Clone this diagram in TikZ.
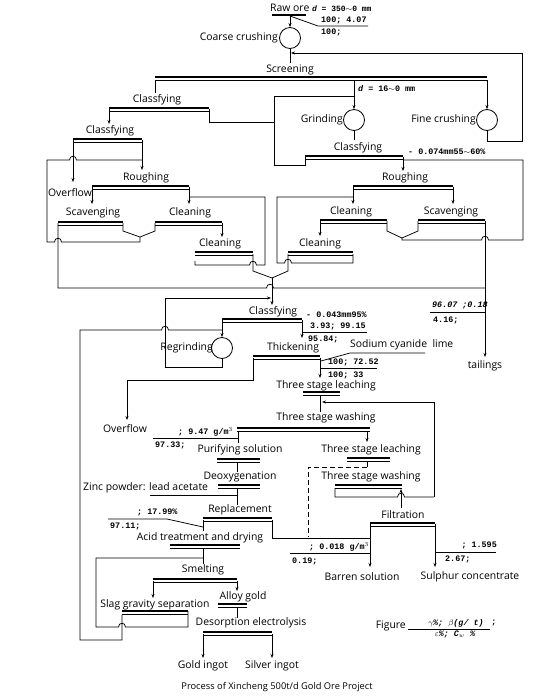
\documentclass[tikz,border=0pt]{standalone}
\usepackage{fontspec}
\setmainfont{Open Sans}
\newfontfamily\numf{Liberation Mono}
\usetikzlibrary{arrows.meta}
\newcommand\flbar[3]{\draw[thk] (#1,#3) -- (#2,#3); \draw[thn] (#1,#3+3.2) -- (#2,#3+3.2);}
\begin{document}
\begin{tikzpicture}[x=1pt,y=-1pt,
  ln/.style={line width=0.75pt},
  arr/.style={line width=0.75pt,-{Stealth[length=4pt,width=3pt]}},
  lab/.style={font=\fontsize{10.4}{11}\selectfont, inner sep=0pt},
  num/.style={font=\fontsize{8.4}{9}\selectfont\numf\bfseries, inner sep=0pt},
  thk/.style={line width=1.5pt},
  thn/.style={line width=0.6pt},
  mach/.style={circle,draw,line width=0.8pt,minimum size=21pt,inner sep=0pt}]
\fill[white] (0,0) rectangle (550,697);
\useasboundingbox (0,0) rectangle (550,697);

% ---------------- top: crushing & screening
\node[lab,anchor=west] (raw) at (270,8) {Raw ore\ {\fontsize{8}{8}\selectfont\numf\bfseries\itshape d\upshape{} = 350$\sim$0 mm}};
\draw[line width=1.2pt] (272,15) -- (306,15);
\node[mach] (cc) at (290,38) {};
\draw[arr] (290,15) -- (cc.north);
\draw[ln] (290,16) -- (318,26) -- (368,26);
\node[num,anchor=south west] (n1) at (321,24) {100; 4.07};
\node[num,anchor=north west] (n2) at (321,29) {100;};
\node[lab,anchor=east] (lcc) at (278,38) {Coarse crushing};
\draw[ln] (cc.south) -- (290,63);
\node[lab] (scr) at (290,70) {Screening};
\flbar{155}{487}{77}

\node[mach] (fc) at (487,120) {};
\node[mach] (gr) at (354,120) {};
\node[lab,anchor=east] (lfc) at (476,120) {Fine crushing};
\node[lab,anchor=east] (lgr) at (343,120) {Grinding};
\draw[arr] (fc.south) -- (487,141) -- (522,141) -- (522,53) -- (291,53);
\draw[arr] (487,80) -- (fc.north);
\draw[arr] (354,80) -- (gr.north);
\node[num,anchor=west] (d16) at (358,88) {{\itshape d} = 16$\sim$0 mm};
\draw[ln] (354,96) -- (274,96) -- (274,165) -- (305,165) -- (305,157);

% classifier 1 (left top)
\draw[ln] (155,80) -- (155,93);
\node[lab] (cl1) at (157,100) {Classfying};
\flbar{109}{209}{108}
\draw[arr] (109,109) -- (109,124);
\draw[ln] (209,109) -- (209,122) -- (274,122);

% classifier with grinding
\draw[ln] (gr.south) -- (354,140);
\node[lab] (cl2) at (358,148) {Classfying};
\flbar{305}{403}{156}
\draw[arr] (403,157) -- (403,171);
\node[num,anchor=west] (n074) at (408,152) {- 0.074mm55$\sim$60\%};

% ---------------- right flotation
\draw[ln] (403,160) -- (523,160) -- (523,240) -- (488.5,240) .. controls (488.5,235) and (481.5,235) .. (481.5,240) -- (402,240) -- (402,238);
\node[lab] (rr) at (405,178) {Roughing};
\flbar{353}{453}{186}
\draw[arr] (353,187) -- (353,204);
\draw[arr] (453,187) -- (453,204);
\draw[ln] (353,197) -- (277,197) -- (277,263) -- (284.5,263) .. controls (284.5,258) and (291.5,258) .. (291.5,263) -- (353,263) -- (353,254);
\node[lab] (rc1) at (351,212) {Cleaning};
\node[lab] (rs) at (451,212) {Scavenging};
\flbar{320}{387}{220}
\flbar{418}{485}{220}
\draw[arr] (320,221) -- (320,236);
\draw[ln] (387,221) -- (387,231) -- (402,238) -- (418,231) -- (418,221);
\node[lab] (rc2) at (320,244) {Cleaning};
\flbar{288}{353}{252}
\draw[ln] (288,254) -- (288,271) -- (272,278);
\draw[arr] (485,221) -- (485,357);
\node[lab] (tail) at (485,366) {tailings};
\node[num,anchor=west] (n96) at (432,305) {\itshape 96.07 ;0.18};
\draw[ln] (430,312) -- (485,312);
\node[num,anchor=west] (n416) at (433,320) {4.16;};

% ---------------- left flotation
\node[lab] (cl3) at (110,131) {Classfying};
\flbar{73}{142}{139}
\draw[arr] (73,140) -- (73,182);
\node[lab] (of1) at (70,193) {Overflow};
\draw[arr] (142,140) -- (142,170);
\draw[ln] (140,237) -- (140,242) -- (61.5,242) .. controls (61.5,237) and (54.5,237) .. (54.5,242) -- (47,242) -- (47,160) -- (69.5,160) .. controls (69.5,155) and (76.5,155) .. (76.5,160) -- (142,160);
\node[lab] (lr) at (146,178) {Roughing};
\flbar{92}{189}{186}
\draw[arr] (92,187) -- (92,204);
\draw[arr] (189,187) -- (189,204);
\draw[ln] (189,197) -- (265,197) -- (265,265) -- (256.5,265) .. controls (256.5,260) and (249.5,260) .. (249.5,265) -- (195,265) -- (195,261);
\node[lab] (ls) at (93,213) {Scavenging};
\node[lab] (lc1) at (190,213) {Cleaning};
\flbar{58}{123}{222}
\flbar{155}{222}{222}
\draw[ln] (123,223) -- (123,231) -- (140,237) -- (155,231) -- (155,223);
\draw[arr] (222,223) -- (222,237);
\node[lab] (lc2) at (220,244) {Cleaning};
\flbar{195}{253}{252}
\draw[ln] (253,254) -- (253,271) -- (272,278);
\draw[ln] (58,223) -- (58,288) -- (266.5,288) .. controls (266.5,283) and (273.5,283) .. (273.5,288) -- (485,288);

% ---------------- regrinding & classifying
\draw[arr] (272,278) -- (272,305);
\node[lab] (cl4) at (273,312) {Classfying};
\node[mach] (rg) at (222,348) {};
\node[lab,anchor=east] (lrg) at (213,348) {Regrinding};
\flbar{222}{302}{319}
\draw[arr] (222,320) -- (rg.north);
\draw[arr] (rg.south) -- (222,367) -- (165,367) -- (165,298) -- (271,298);
\draw[arr] (302,320) -- (302,338);
\node[num,anchor=west] (n043) at (306,315) {- 0.043mm95\%};
\node[num,anchor=west] (n393) at (310,326) {3.93; 99.15};
\draw[ln] (302,332) -- (367,332);
\node[num,anchor=west] (n958) at (308,339) {95.84;};

% ---------------- leaching
\node[lab] (thk) at (293,348) {Thickening};
\flbar{253}{320}{356}
\draw[arr] (253,358) -- (253,380) -- (127,380) -- (127,420);
\node[lab] (of2) at (125,429) {Overflow};
\draw[arr] (320,358) -- (320,378);
\node[lab,anchor=west] (nac) at (350,345) {Sodium cyanide\ \ lime};
\draw[ln] (425,353) -- (350,353) -- (321,361);
\node[num,anchor=west] (n7252) at (328,362) {100; 72.52};
\draw[ln] (320,368) -- (377,368);
\node[num,anchor=west] (n33) at (328,375) {100; 33};
\node[lab] (le1) at (326,386) {Three stage leaching};
\flbar{303}{340}{392}
\draw[ln] (320,396) -- (320,412);
\draw[arr] (434,497) -- (434,402) -- (322,402);
\node[lab] (wa1) at (326,418) {Three stage washing};
\flbar{237}{370}{428}
\draw[ln] (238,432) -- (238,443);
\draw[ln] (153,438) -- (238,438);
\node[num,anchor=west] (n947) at (178,432) {; 9.47 g/m$^3$};
\node[num,anchor=west] (n9733) at (155,445) {97.33;};
\draw[arr] (367,431) -- (367,442);
\node[lab] (le2) at (371,450) {Three stage leaching};
\flbar{347}{390}{458}
\draw[ln] (367,462) -- (367,467);
\draw[ln,dash pattern=on 5pt off 3pt] (367,467) -- (308,467) -- (308,537);
\node[lab] (wa2) at (371,477) {Three stage washing};
\flbar{335}{402}{485}
\draw[ln] (335,488) -- (335,497) -- (397.5,497) .. controls (397.5,492) and (404.5,492) .. (404.5,497) -- (434,497);
\draw[arr] (401,508) -- (401,489);
\node[lab] (fil) at (403,515) {Filtration};
\flbar{370}{435}{523}
\draw[arr] (370,524) -- (370,567);
\draw[arr] (435,524) -- (435,567);
\node[lab] (bar) at (362,577) {Barren solution};
\node[lab] (sul) at (470,577) {Sulphur concentrate};
\node[num,anchor=east] (n018) at (369,547) {; 0.018 g/m$^3$};
\draw[ln] (290,553) -- (370,553);
\node[num,anchor=west] (n019) at (292,561) {0.19;};
\node[num,anchor=east] (n1595) at (497,545) {; 1.595};
\draw[ln] (435,552) -- (496,552);
\node[num,anchor=west] (n267) at (445,559) {2.67;};

% ---------------- gold recovery
\node[lab] (pur) at (240,450) {Purifying solution};
\flbar{217}{260}{459}
\draw[ln] (237,463) -- (237,472);
\node[lab] (deo) at (240,477) {Deoxygenation};
\flbar{218}{260}{485}
\draw[ln] (237,489) -- (237,505);
\node[lab,anchor=west] (zinc) at (83,488) {Zinc powder: lead acetate};
\draw[ln] (150,495) -- (237,495);
\node[lab] (rep) at (240,510) {Replacement};
\flbar{203}{272}{518}
\draw[ln] (272,520) -- (272,538) -- (370,538);
\draw[ln] (203,520) -- (203,531);
\draw[ln] (108,519) -- (167,519) -- (203,527);
\node[num,anchor=west] (n1799) at (137,512) {; 17.99\%};
\node[num,anchor=west] (n9711) at (110,526) {97.11;};
\node[lab] (acid) at (200,538) {Acid treatment and drying};
\flbar{170}{240}{545}
\draw[ln] (203,549) -- (203,564);
\node[lab] (sme) at (203,570) {Smelting};
\flbar{153}{237}{579}
\draw[arr] (153,581) -- (153,598);
\draw[arr] (237,581) -- (237,591);
\node[lab] (slag) at (155,605) {Slag gravity separation};
\node[lab] (alloy) at (243,597) {Alloy gold};
\flbar{122}{188}{611}
\draw[ln] (188,611) -- (188,627) -- (125.5,627) .. controls (125.5,622) and (118.5,622) .. (118.5,627) -- (96,627) -- (96,558) -- (203,558);
\draw[ln] (122,615) -- (122,640) -- (80,640) -- (80,330) -- (161.5,330) .. controls (161.5,325) and (168.5,325) .. (168.5,330) -- (222,330);
\flbar{218}{247}{604}
\draw[ln] (237,608) -- (237,618);
\node[lab] (des) at (251,623) {Desorption electrolysis};
\flbar{203}{272}{632}
\draw[arr] (203,634) -- (203,658);
\draw[arr] (272,634) -- (272,658);
\node[lab] (gold) at (203,666) {Gold ingot};
\node[lab] (silv) at (272,666) {Silver ingot};

% ---------------- legend & title
\node[lab,anchor=east] (fig) at (406,626) {Figure};
\draw[ln] (408,629) -- (490,629);
\node[num,anchor=south] (fnum) at (456,627) {\itshape $\gamma$\%; $\beta$(g/ t)};
\node[num,anchor=north] (fden) at (455,631) {\itshape $\varepsilon$\%; C$_w$ \%};
\node[num] (fsc) at (494,623) {;};
\node[lab,font=\fontsize{9.3}{10}\selectfont] (title) at (277,687) {Process of Xincheng 500t/d Gold Ore Project};
\end{tikzpicture}
\end{document}
